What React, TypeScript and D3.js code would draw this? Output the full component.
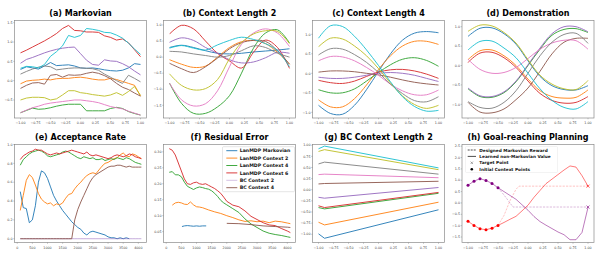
import React from 'react';
import * as d3 from 'd3';

// tab10
const C = {
  blue: '#1f77b4', orange: '#ff7f0e', green: '#2ca02c', red: '#d62728', purple: '#9467bd',
  brown: '#8c564b', pink: '#e377c2', gray: '#7f7f7f', olive: '#bcbd22', cyan: '#17becf',
};

// ---------- (a) Markovian ----------
const xA = [-1, -0.9, -0.8, -0.7, -0.6, -0.5, -0.4, -0.3, -0.2, -0.1, 0, 0.1, 0.2, 0.3, 0.4, 0.5, 0.6, 0.7, 0.8, 0.9, 1];
const aBlue = [0.29, 0.36, 0.33, 0.3, 0.38, 0.47, 0.39, 0.4, 0.41, 0.38, 0.33, 0.32, 0.33, 0.31, 0.28, 0.26, 0.25, 0.27, 0.33, 0.44, 0.42];
const aOrange = [-0.08, -0.01, 0.01, 0.02, 0.04, 0.02, 0.05, 0.06, 0.06, 0.08, 0.09, 0.07, 0.04, 0.02, 0.02, 0.06, 0.03, -0.02, -0.07, -0.12, -0.4];
const aGreen = [-0.83, -0.77, -0.71, -0.74, -0.73, -0.7, -0.66, -0.63, -0.61, -0.61, -0.61, -0.78, -0.78, -0.78, -0.78, -0.72, -0.69, -0.72, -0.8, -0.85, -0.89];
const aRed = [0.72, 0.79, 0.87, 0.95, 1.03, 1.12, 1.22, 1.35, 1.43, 1.3, 1.29, 1.26, 1.26, 1.25, 1.16, 1.12, 1.05, 1.08, 0.98, 0.8, 0.62];
const aPurple = [0.45, 0.55, 0.6, 0.66, 0.72, 0.77, 0.81, 0.84, 0.86, 0.87, 0.7, 0.53, 0.42, 0.4, 0.54, 0.51, 0.5, 0.44, 0.36, 0.25, 0.15];
const aBrown = [-0.2, -0.12, -0.06, -0.05, -0.09, 0.14, 0.16, 0.09, 0.15, 0.14, 0.15, 0.19, 0.22, 0.19, 0.13, 0.05, -0.07, -0.17, -0.23, -0.32, -0.4];
const aPink = [-0.83, -0.76, -0.7, -0.66, -0.61, -0.58, -0.56, -0.54, -0.52, -0.5, -0.5, -0.52, -0.54, -0.57, -0.62, -0.67, -0.7, -0.73, -0.79, -0.84, -0.89];
const aGray = [0.17, 0.24, 0.3, 0.35, 0.38, 0.36, 0.28, 0.3, 0.32, 0.33, 0.33, 0.32, 0.31, 0.27, 0.17, 0.09, 0, -0.07, 0.14, 0.06, -0.03];
const aOlive = [-0.5, -0.45, -0.43, -0.43, -0.44, -0.5, -0.47, -0.37, -0.26, -0.26, -0.31, -0.33, -0.36, -0.38, -0.4, -0.37, -0.31, -0.38, -0.28, -0.15, -0.38];
const aCyan = [0.32, 0.37, 0.36, 0.33, 0.42, 0.63, 0.75, 0.9, 1.17, 1.12, 1.17, 1.35, 1.33, 1.3, 1.25, 1.24, 1.18, 1.1, 0.97, 0.82, 0.68];

// ---------- (b) (c) (d) shared grid ----------
const x11 = [-1, -0.8, -0.6, -0.4, -0.2, 0, 0.2, 0.4, 0.6, 0.8, 1];

const bBlue = [0.3, 0.37, 0.3, 0.2, 0.12, 0.1, 0.12, 0.16, 0.19, 0.22, 0.26];
const bOrange = [-0.08, -0.22, -0.32, -0.28, 0, 0.3, 0.48, 0.52, 0.42, 0.15, -0.22];
const bGreen = [-0.81, -1.44, -1.75, -1.75, -1.55, -1.2, -0.5, 0.28, 0.75, 0.85, 0.44];
const bRed = [0.72, 0.99, 0.88, 0.5, 0.12, -0.12, -0.34, 0.15, 0.53, 0.3, -0.35];
const bPurple = [0.46, 0.6, 0.52, 0.3, 0.12, -0.08, -0.18, -0.15, -0.02, 0.15, 0.12];
const bBrown = [-0.19, -0.36, -0.48, -0.3, -0.03, 0.26, 0.45, 0.52, 0.49, 0.2, -0.22];
const bPink = [-0.81, -1.33, -1.52, -1.45, -1.05, -0.3, 0.4, 0.75, 0.88, 0.75, 0.33];
const bGray = [0.18, 0.16, 0.1, 0.05, 0, 0.05, 0.2, 0.35, 0.3, 0.12, 0];
const bOlive = [-0.52, -0.88, -1.02, -0.98, -0.7, -0.05, 0.45, 0.72, 0.82, 0.8, 0.42];
const bCyan = [0.28, 0.36, 0.28, 0.22, 0.38, 0.52, 0.62, 0.55, 0.42, 0.2, -0.3];

const cBlue = [-0.82, -1.03, -1.05, -0.82, -0.42, 0.05, 0.5, 0.85, 1.03, 1.07, 1.04];
const cOrange = [-0.68, -0.86, -0.86, -0.65, -0.3, 0.1, 0.45, 0.7, 0.82, 0.82, 0.74];
const cGreen = [-0.42, -0.5, -0.5, -0.4, -0.2, 0.02, 0.22, 0.36, 0.4, 0.33, 0.18];
const cRed = [-0.18, -0.24, -0.26, -0.2, -0.08, 0.03, 0.09, 0.1, 0.06, -0.02, -0.13];
const cPurple = [-0.1, -0.13, -0.13, -0.1, -0.05, 0, 0.02, 0, -0.05, -0.13, -0.21];
const cBrown = [0.03, 0.06, 0.06, 0.04, 0, -0.04, -0.1, -0.17, -0.23, -0.27, -0.3];
const cPink = [0.32, 0.43, 0.42, 0.32, 0.15, -0.05, -0.28, -0.45, -0.55, -0.55, -0.43];
const cGray = [0.47, 0.63, 0.62, 0.48, 0.28, 0.02, -0.28, -0.52, -0.7, -0.73, -0.6];
const cOlive = [0.68, 0.9, 0.88, 0.7, 0.45, 0.12, -0.25, -0.58, -0.8, -0.9, -0.82];
const cCyan = [0.9, 1.22, 1.2, 0.95, 0.6, 0.2, -0.22, -0.6, -0.85, -0.97, -0.95];

const dBlue = [0.75, 0.96, 0.97, 0.82, 0.55, 0.12, -0.28, -0.52, -0.62, -0.63, -0.52];
const dOrange = [0.15, 0.38, 0.4, 0.25, 0, -0.35, -0.65, -0.8, -0.84, -0.82, -0.63];
const dGreen = [-0.6, -0.8, -0.82, -0.7, -0.42, 0, 0.42, 0.78, 0.93, 0.95, 0.85];
const dRed = [0.08, 0.32, 0.34, 0.2, -0.05, -0.4, -0.72, -0.9, -0.97, -0.95, -0.8];
const dPurple = [-0.58, -0.78, -0.8, -0.68, -0.4, 0.02, 0.45, 0.82, 1, 1, 0.87];
const dBrown = [-0.95, -1.2, -1.22, -1.12, -0.88, -0.58, -0.15, 0.3, 0.6, 0.7, 0.7];
const dPink = [0.16, -0.1, -0.2, -0.18, -0.05, 0.18, 0.42, 0.58, 0.65, 0.64, 0.42];
const dGray = [-0.93, -1.08, -1.1, -0.95, -0.65, -0.2, 0.25, 0.6, 0.8, 0.83, 0.57];
const dOlive = [0.88, 1.04, 1.02, 0.85, 0.58, 0.15, -0.25, -0.48, -0.6, -0.62, -0.39];
const dCyan = [0.4, 0.62, 0.63, 0.45, 0.2, -0.2, -0.6, -0.9, -1.08, -1.12, -0.93];

// ---------- (e) Acceptance Rate ----------
const eX = [100, 200, 300, 400, 500, 600, 700, 800, 900, 1000, 1100, 1200, 1300, 1400, 1500, 1600, 1700, 1800, 1900, 2000,
  2100, 2200, 2300, 2400, 2500, 2600, 2700, 2800, 2900, 3000, 3100, 3200, 3300, 3400, 3500, 3600, 3700, 3800, 3900, 4000, 4100];
const eBlue = [0.5, 0.33, 0.32, 0.17, 0.2, 0.35, 0.6, 0.72, 0.7, 0.64, 0.55, 0.46, 0.4, 0.35, 0.3, 0.26, 0.22, 0.18, 0.15, 0.12,
  0.1, 0.06, 0.04, 0.07, 0.08, 0.07, 0.06, 0.05, 0.04, 0.02, 0.01, 0.01, 0, 0.01, 0, 0.01, 0];
const eOrange = [0.3, 0.46, 0.62, 0.68, 0.65, 0.57, 0.48, 0.42, 0.39, 0.37, 0.38, 0.35, 0.37, 0.36, 0.38, 0.43, 0.47, 0.48, 0.53, 0.57,
  0.6, 0.64, 0.67, 0.69, 0.7, 0.69, 0.73, 0.77, 0.8, 0.81, 0.83, 0.85, 0.86, 0.89, 0.91, 0.88, 0.87, 0.9, 0.89, 0.87, 0.85];
const eGreen = [0.78, 0.84, 0.87, 0.9, 0.92, 0.93, 0.94, 0.93, 0.91, 0.88, 0.87, 0.88, 0.89, 0.9, 0.92, 0.93, 0.92, 0.9, 0.88, 0.86,
  0.85, 0.87, 0.86, 0.85, 0.86, 0.84, 0.84, 0.85, 0.83, 0.84, 0.85, 0.84, 0.86, 0.85, 0.84, 0.86, 0.85, 0.83, 0.81, 0.8, 0.79];
const eRed = [0.84, 0.88, 0.9, 0.92, 0.93, 0.95, 0.94, 0.94, 0.92, 0.9, 0.89, 0.9, 0.91, 0.9, 0.91, 0.92, 0.93, 0.94, 0.93, 0.92,
  0.91, 0.9, 0.92, 0.89, 0.88, 0.89, 0.88, 0.87, 0.86, 0.85, 0.86, 0.88, 0.89, 0.88, 0.87, 0.88, 0.9, 0.89, 0.87, 0.86, 0.85];
const ePurple = [0, 0, 0, 0, 0, 0, 0, 0, 0, 0, 0, 0, 0, 0, 0, 0, 0, 0, 0, 0,
  0, 0, 0, 0, 0, 0, 0, 0, 0, 0, 0, 0, 0, 0, 0, 0, 0, 0, 0, 0, 0];
const eBrown = [0, 0, 0, 0, 0, 0, 0, 0, 0, 0, 0, 0, 0, 0, 0, 0, 0, 0, 0.2, 0.31,
  0.39, 0.46, 0.53, 0.6, 0.65, 0.68, 0.7, 0.72, 0.74, 0.76, 0.77, 0.77, 0.78, 0.78, 0.77, 0.76, 0.77, 0.76, 0.76, 0.76, 0.76];

// ---------- (f) Residual Error ----------
const fGridX = [100, 200, 300, 400, 500, 600, 700, 800, 900, 1000, 1100, 1200, 1300, 1400, 1500, 1600, 1700, 1800, 1900, 2000,
  2200, 2400, 2600, 2800, 3000, 3200, 3400, 3600, 3800, 4000, 4100];
const fRed = [0.31, 0.305, 0.29, 0.265, 0.24, 0.215, 0.2, 0.198, 0.203, 0.205, 0.2, 0.198, 0.2, 0.195, 0.19, 0.185, 0.178, 0.17, 0.158, 0.145,
  0.133, 0.128, 0.115, 0.098, 0.088, 0.078, 0.071, 0.069, 0.06, 0.052, 0.047];
const fGreen = [0.236, 0.238, 0.228, 0.228, 0.222, 0.205, 0.192, 0.187, 0.182, 0.187, 0.19, 0.188, 0.185, 0.183, 0.178, 0.17, 0.16, 0.148, 0.14, 0.134,
  0.122, 0.11, 0.09, 0.074, 0.063, 0.052, 0.045, 0.041, 0.038, 0.034, 0.032];
const fOrangeX = [200, 300, 400, 500, 600, 700, 800, 900, 1000, 1100, 1200, 1400, 1600, 1800, 2000, 2200, 2400, 2600, 2800, 3000, 3200, 3400, 3600, 3800, 4000, 4100];
const fOrange = [0.133, 0.14, 0.142, 0.14, 0.136, 0.135, 0.143, 0.134, 0.128, 0.127, 0.125, 0.118, 0.112, 0.107, 0.1, 0.094, 0.087, 0.082, 0.084, 0.081,
  0.083, 0.078, 0.083, 0.081, 0.077, 0.075];
const fBlueX = [520, 600, 700, 800, 900, 1000, 1100, 1200, 1320];
const fBlue = [0.066, 0.068, 0.069, 0.068, 0.067, 0.068, 0.067, 0.068, 0.068];
const fBrownX = [2000, 2400, 2800, 3200, 3600, 4000, 4100];
const fBrown = [0.076, 0.075, 0.072, 0.068, 0.066, 0.064, 0.063];
const fLegend = ['LanMDP Markovian', 'LanMDP Context 2', 'LanMDP Context 4', 'LanMDP Context 6', 'BC Context 2', 'BC Context 4'];

// ---------- (g) BC Context Length 2 ----------
const gX = [-1, -0.9, 1];
const gBlue = [-0.99, -1.09, -0.45];
const gOrange = [-0.73, -0.79, -0.28];
const gGreen = [-0.4, -0.43, -0.08];
const gRed = [-0.36, -0.4, -0.06];
const gPurple = [-0.17, -0.19, 0.05];
const gBrown = [0.13, 0.14, 0.19];
const gPink = [0.34, 0.35, 0.27];
const gGray = [0.58, 0.62, 0.35];
const gOlive = [0.86, 0.9, 0.45];
const gCyan = [0.92, 0.98, 0.49];

// ---------- (h) Goal-reaching Planning ----------
const hX = [-1, -0.9, -0.8, -0.7, -0.6, -0.5, -0.4, -0.3, -0.2, -0.1, 0, 0.1, 0.2, 0.3, 0.4, 0.5, 0.6, 0.7, 0.8, 0.9, 1];
const hPurpleValue = [0.78, 0.96, 1.07, 0.99, 0.86, 0.67, 0.5, 0.33, 0.16, -0.08, -0.32, -0.6, -0.82, -0.98, -1.13, -1.28, -1.4, -1.62, -1.62, -1.3, -0.2];
const hRedValue = [-0.81, -0.99, -1.14, -1.18, -1.11, -0.99, -0.86, -0.72, -0.59, -0.35, -0.1, 0.25, 0.55, 0.85, 1.05, 1.25, 1.45, 1.63, 1.58, 1.2, 0.74];
const hContextX = [-1, -0.9, -0.8, -0.7, -0.6, -0.5];
const hPurpleContext = [0.78, 0.96, 1.07, 0.99, 0.86, 0.67];
const hRedContext = [-0.81, -0.99, -1.14, -1.18, -1.11, -0.99];
const hPurpleRewardX = [-0.5, -0.4, -0.3, -0.25, 1];
const hPurpleReward = [0.67, 0.35, 0, -0.18, -0.18];
const hRedRewardX = [-0.5, -0.4, -0.3, -0.2, -0.15, 1];
const hRedReward = [-0.99, -0.55, 0.1, 0.6, 0.74, 0.74];
const hTargetX = [1, 1];
const hTargetY = [-0.18, 0.74];
const hLegend = ['Designed Markovian Reward', 'Learned non-Markovian Value', 'Target Point', 'Initial Context Points'];

const unitTicks = [-1, -0.75, -0.5, -0.25, 0, 0.25, 0.5, 0.75, 1];
const stepTicks = [0, 500, 1000, 1500, 2000, 2500, 3000, 3500, 4000];

const fmt1 = d3.format('.1f');
const fmt2 = d3.format('.2f');
const fmtInt = d3.format('d');

type Scale = d3.ScaleLinear<number, number>;

interface PanelProps {
  left: number;
  top: number;
  width: number;
  height: number;
  title: string;
  xDomain: [number, number];
  yDomain: [number, number];
  xTicks: number[];
  yTicks: number[];
  xFmt: (v: number) => string;
  yFmt: (v: number) => string;
  draw: (x: Scale, y: Scale) => React.ReactNode;
}

function linePath(xs: number[], ys: number[], x: Scale, y: Scale, curve: d3.CurveFactory = d3.curveLinear) {
  return d3
    .line<number>()
    .x((_, i) => x(xs[i]))
    .y((d) => y(d))
    .curve(curve)(ys) || '';
}

function Panel(p: PanelProps) {
  const x = d3.scaleLinear().domain(p.xDomain).range([p.left, p.left + p.width]);
  const y = d3.scaleLinear().domain(p.yDomain).range([p.top + p.height, p.top]);
  const bottom = p.top + p.height;
  const tickFont = { fontFamily: 'DejaVu Sans', fontSize: 3.3, fill: '#444' };
  return (
    <g>
      <text x={p.left + p.width / 2} y={p.top - 4.5} textAnchor="middle" fontFamily="DejaVu Sans" fontWeight="bold" fontSize={8} fill="#000">
        {p.title}
      </text>
      {p.draw(x, y)}
      <rect x={p.left} y={p.top} width={p.width} height={p.height} fill="none" stroke="#8a8a8a" strokeWidth={0.7} />
      {p.xTicks.map((t) => (
        <g key={'x' + t}>
          <line x1={x(t)} x2={x(t)} y1={bottom} y2={bottom + 1.3} stroke="#777" strokeWidth={0.4} />
          <text x={x(t)} y={bottom + 6.3} textAnchor="middle" {...tickFont}>{p.xFmt(t)}</text>
        </g>
      ))}
      {p.yTicks.map((t) => (
        <g key={'y' + t}>
          <line x1={p.left - 1.3} x2={p.left} y1={y(t)} y2={y(t)} stroke="#777" strokeWidth={0.4} />
          <text x={p.left - 2} y={y(t) + 1.2} textAnchor="end" {...tickFont}>{p.yFmt(t)}</text>
        </g>
      ))}
    </g>
  );
}

function Lines(props: { xs: number[]; series: { c: string; v: number[] }[]; x: Scale; y: Scale; curve?: d3.CurveFactory; sw?: number }) {
  return (
    <g>
      {props.series.map((s, i) => (
        <path key={i} d={linePath(props.xs, s.v, props.x, props.y, props.curve)} fill="none" stroke={s.c} strokeWidth={props.sw || 0.9} strokeLinejoin="round" />
      ))}
    </g>
  );
}

export default function App() {
  const lefts = [14.5, 163.5, 312.5, 462];
  const pw = 132;
  const row1 = { top: 20.5, h: 97.5 };
  const row2 = { top: 144.5, h: 98 };
  const unitDom: [number, number] = [-1.1, 1.1];
  const stepDom: [number, number] = [-90, 4270];

  return (
    <svg width={598} height={255} style={{ position: 'absolute', left: 0, top: 0, background: '#fff' }}>
      <rect width={598} height={255} fill="#fff" />
      <Panel left={lefts[0]} top={row1.top} width={pw} height={row1.h} title="(a) Markovian"
        xDomain={unitDom} yDomain={[-0.966, 1.557]} xTicks={unitTicks} yTicks={[-0.5, 0, 0.5, 1, 1.5]} xFmt={fmt2} yFmt={fmt1}
        draw={(x, y) => (
          <Lines xs={xA} x={x} y={y} series={[
            { c: C.blue, v: aBlue }, { c: C.orange, v: aOrange }, { c: C.green, v: aGreen }, { c: C.red, v: aRed },
            { c: C.purple, v: aPurple }, { c: C.brown, v: aBrown }, { c: C.pink, v: aPink }, { c: C.gray, v: aGray },
            { c: C.olive, v: aOlive }, { c: C.cyan, v: aCyan },
          ]} />
        )} />
      <Panel left={lefts[1]} top={row1.top} width={pw} height={row1.h} title="(b) Context Length 2"
        xDomain={unitDom} yDomain={[-1.895, 1.14]} xTicks={unitTicks} yTicks={[-1.5, -1, -0.5, 0, 0.5, 1]} xFmt={fmt2} yFmt={fmt1}
        draw={(x, y) => (
          <Lines xs={x11} x={x} y={y} curve={d3.curveCatmullRom} series={[
            { c: C.blue, v: bBlue }, { c: C.orange, v: bOrange }, { c: C.green, v: bGreen }, { c: C.red, v: bRed },
            { c: C.purple, v: bPurple }, { c: C.brown, v: bBrown }, { c: C.pink, v: bPink }, { c: C.gray, v: bGray },
            { c: C.olive, v: bOlive }, { c: C.cyan, v: bCyan },
          ]} />
        )} />
      <Panel left={lefts[2]} top={row1.top} width={pw} height={row1.h} title="(c) Context Length 4"
        xDomain={unitDom} yDomain={[-1.146, 1.354]} xTicks={unitTicks} yTicks={[-1, -0.5, 0, 0.5, 1]} xFmt={fmt2} yFmt={fmt1}
        draw={(x, y) => (
          <Lines xs={x11} x={x} y={y} curve={d3.curveCatmullRom} series={[
            { c: C.blue, v: cBlue }, { c: C.orange, v: cOrange }, { c: C.green, v: cGreen }, { c: C.red, v: cRed },
            { c: C.purple, v: cPurple }, { c: C.brown, v: cBrown }, { c: C.pink, v: cPink }, { c: C.gray, v: cGray },
            { c: C.olive, v: cOlive }, { c: C.cyan, v: cCyan },
          ]} />
        )} />
      <Panel left={lefts[3]} top={row1.top} width={pw} height={row1.h} title="(d) Demonstration"
        xDomain={unitDom} yDomain={[-1.353, 1.16]} xTicks={unitTicks} yTicks={[-1, -0.5, 0, 0.5, 1]} xFmt={fmt2} yFmt={fmt1}
        draw={(x, y) => (
          <Lines xs={x11} x={x} y={y} curve={d3.curveCatmullRom} series={[
            { c: C.blue, v: dBlue }, { c: C.orange, v: dOrange }, { c: C.green, v: dGreen }, { c: C.red, v: dRed },
            { c: C.purple, v: dPurple }, { c: C.brown, v: dBrown }, { c: C.pink, v: dPink }, { c: C.gray, v: dGray },
            { c: C.olive, v: dOlive }, { c: C.cyan, v: dCyan },
          ]} />
        )} />

      <Panel left={lefts[0]} top={row2.top} width={pw} height={row2.h} title="(e) Acceptance Rate"
        xDomain={stepDom} yDomain={[-0.04, 1.0]} xTicks={stepTicks} yTicks={[0, 0.2, 0.4, 0.6, 0.8, 1]} xFmt={fmtInt} yFmt={fmt1}
        draw={(x, y) => (
          <g>
            <path d={linePath(eX, eBlue, x, y)} fill="none" stroke={C.blue} strokeWidth={0.9} />
            <path d={linePath(eX, eOrange, x, y)} fill="none" stroke={C.orange} strokeWidth={0.9} />
            <path d={linePath(eX, eGreen, x, y)} fill="none" stroke={C.green} strokeWidth={0.9} />
            <path d={linePath(eX, eRed, x, y)} fill="none" stroke={C.red} strokeWidth={0.9} />
            <path d={linePath(eX, ePurple, x, y)} fill="none" stroke={C.purple} strokeOpacity={0.6} strokeWidth={0.9} />
            <path d={linePath(eX, eBrown, x, y)} fill="none" stroke={C.brown} strokeWidth={0.9} />
          </g>
        )} />
      <Panel left={lefts[1]} top={row2.top} width={pw} height={row2.h} title="(f) Residual Error"
        xDomain={stepDom} yDomain={[0.016, 0.323]} xTicks={stepTicks} yTicks={[0.05, 0.1, 0.15, 0.2, 0.25, 0.3]} xFmt={fmtInt} yFmt={fmt2}
        draw={(x, y) => {
          const colors = [C.blue, C.orange, C.green, C.red, C.purple, C.brown];
          const lx = lefts[1] + pw - 73;
          const ly = row2.top + 2.2;
          return (
            <g>
              <path d={linePath(fBlueX, fBlue, x, y)} fill="none" stroke={C.blue} strokeWidth={0.9} />
              <path d={linePath(fOrangeX, fOrange, x, y)} fill="none" stroke={C.orange} strokeWidth={0.9} />
              <path d={linePath(fGridX, fGreen, x, y)} fill="none" stroke={C.green} strokeWidth={0.9} />
              <path d={linePath(fGridX, fRed, x, y)} fill="none" stroke={C.red} strokeWidth={0.9} />
              <path d={linePath(fBrownX, fBrown, x, y)} fill="none" stroke={C.brown} strokeWidth={0.9} />
              <rect x={lx} y={ly} width={72} height={45} rx={1} fill="#fff" fillOpacity={0.85} stroke="#ccc" strokeWidth={0.5} />
              {fLegend.map((name, i) => (
                <g key={name}>
                  <line x1={lx + 3.8} x2={lx + 14.8} y1={ly + 4 + i * 7.4} y2={ly + 4 + i * 7.4} stroke={colors[i]}
                    strokeOpacity={i === 4 ? 0.45 : 1} strokeWidth={0.9} />
                  <text x={lx + 17.2} y={ly + 5.6 + i * 7.4} fontFamily="DejaVu Sans" fontWeight="bold" fontSize={4.7} fill="#111">{name}</text>
                </g>
              ))}
            </g>
          );
        }} />
      <Panel left={lefts[2]} top={row2.top} width={pw} height={row2.h} title="(g) BC Context Length 2"
        xDomain={unitDom} yDomain={[-1.185, 1.016]} xTicks={unitTicks} yTicks={unitTicks} xFmt={fmt2} yFmt={fmt2}
        draw={(x, y) => (
          <Lines xs={gX} x={x} y={y} series={[
            { c: C.blue, v: gBlue }, { c: C.orange, v: gOrange }, { c: C.green, v: gGreen }, { c: C.red, v: gRed },
            { c: C.purple, v: gPurple }, { c: C.brown, v: gBrown }, { c: C.pink, v: gPink }, { c: C.gray, v: gGray },
            { c: C.olive, v: gOlive }, { c: C.cyan, v: gCyan },
          ]} />
        )} />
      <Panel left={lefts[3]} top={row2.top} width={pw} height={row2.h} title="(h) Goal-reaching Planning"
        xDomain={unitDom} yDomain={[-1.743, 2.575]} xTicks={unitTicks} yTicks={[-1.5, -1, -0.5, 0, 0.5, 1, 1.5, 2, 2.5]} xFmt={fmt2} yFmt={fmt1}
        draw={(x, y) => {
          const lx = lefts[3] + 3.5;
          const ly = row2.top + 2;
          const tColors = ['purple', 'red'];
          return (
            <g>
              <path d={linePath(hPurpleRewardX, hPurpleReward, x, y)} fill="none" stroke="purple" strokeOpacity={0.35} strokeWidth={0.8} strokeDasharray="2.2,1.2" />
              <path d={linePath(hRedRewardX, hRedReward, x, y)} fill="none" stroke="red" strokeOpacity={0.3} strokeWidth={0.8} strokeDasharray="2.2,1.2" />
              <path d={linePath(hX, hPurpleValue, x, y)} fill="none" stroke="purple" strokeOpacity={0.65} strokeWidth={0.8} />
              <path d={linePath(hX, hRedValue, x, y)} fill="none" stroke="red" strokeOpacity={0.65} strokeWidth={0.8} />
              {hContextX.map((cx, i) => (
                <g key={'c' + i}>
                  <circle cx={x(cx)} cy={y(hPurpleContext[i])} r={1.5} fill="purple" />
                  <circle cx={x(cx)} cy={y(hRedContext[i])} r={1.5} fill="red" />
                </g>
              ))}
              {hTargetX.map((tx, i) => {
                const px = x(tx), py = y(hTargetY[i]), s = 1.5;
                return (
                  <g key={'t' + i} stroke={tColors[i]} strokeWidth={0.6}>
                    <line x1={px - s} x2={px + s} y1={py - s} y2={py + s} />
                    <line x1={px - s} x2={px + s} y1={py + s} y2={py - s} />
                  </g>
                );
              })}
              <rect x={lx} y={ly} width={92} height={26} rx={1} fill="#fff" fillOpacity={0.8} stroke="#e0e0e0" strokeWidth={0.4} />
              {hLegend.map((name, i) => {
                const ry = ly + 3.5 + i * 6.4;
                const mx = lx + 6.3;
                return (
                  <g key={name}>
                    {i === 0 && <line x1={lx + 2.2} x2={lx + 10.5} y1={ry} y2={ry} stroke="#000" strokeWidth={0.7} strokeDasharray="2,1" />}
                    {i === 1 && <line x1={lx + 2.2} x2={lx + 10.5} y1={ry} y2={ry} stroke="#000" strokeWidth={0.7} />}
                    {i === 2 && (
                      <g stroke="#555" strokeWidth={0.5}>
                        <line x1={mx - 1.2} x2={mx + 1.2} y1={ry - 1.2} y2={ry + 1.2} />
                        <line x1={mx - 1.2} x2={mx + 1.2} y1={ry + 1.2} y2={ry - 1.2} />
                      </g>
                    )}
                    {i === 3 && <circle cx={mx} cy={ry} r={1.3} fill="#000" />}
                    <text x={lx + 13.8} y={ry + 1.5} fontFamily="DejaVu Sans" fontWeight="bold" fontSize={4.25} fill="#111">{name}</text>
                  </g>
                );
              })}
            </g>
          );
        }} />
    </svg>
  );
}
